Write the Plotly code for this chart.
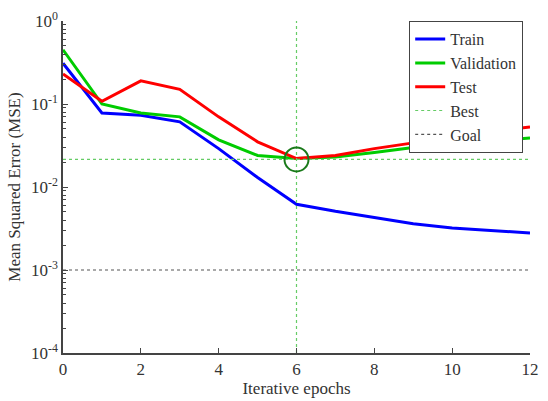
import plotly.graph_objects as go

epochs = list(range(13))
train = [0.31, 0.078, 0.073, 0.061, 0.029, 0.013, 0.0062, 0.0051, 0.0043, 0.0036, 0.0032, 0.0030, 0.0028]
validation = [0.45, 0.10, 0.078, 0.070, 0.037, 0.024, 0.022, 0.023, 0.026, 0.030, 0.033, 0.036, 0.039]
test = [0.23, 0.108, 0.19, 0.15, 0.07, 0.035, 0.022, 0.024, 0.029, 0.034, 0.041, 0.047, 0.053]
best_epoch = 6
best_value = 0.0215
goal_value = 0.001
x_range = [0, 12]
x_ticks = [0, 2, 4, 6, 8, 10, 12]
y_range_log = [-4, 0]
y_tick_vals = [1e-4, 1e-3, 1e-2, 1e-1, 1]
y_tick_text = ["10<sup>-4</sup>", "10<sup>-3</sup>", "10<sup>-2</sup>", "10<sup>-1</sup>", "10<sup>0</sup>"]

font_family = "Liberation Serif"

fig = go.Figure()
fig.add_trace(go.Scatter(x=epochs, y=train, mode="lines", name="Train",
                         line=dict(color="#0000ff", width=3)))
fig.add_trace(go.Scatter(x=epochs, y=validation, mode="lines", name="Validation",
                         line=dict(color="#00cc00", width=3)))
fig.add_trace(go.Scatter(x=epochs, y=test, mode="lines", name="Test",
                         line=dict(color="#ff0000", width=3)))
fig.add_trace(go.Scatter(x=[x_range[0], x_range[1], None, best_epoch, best_epoch],
                         y=[best_value, best_value, None, 10 ** y_range_log[0], 10 ** y_range_log[1]],
                         mode="lines", name="Best",
                         line=dict(color="#66cc66", width=1.2, dash="dot")))
fig.add_trace(go.Scatter(x=x_range, y=[goal_value, goal_value], mode="lines", name="Goal",
                         line=dict(color="#555555", width=1.2, dash="dot")))
fig.add_trace(go.Scatter(x=[best_epoch], y=[best_value], mode="markers", showlegend=False,
                         marker=dict(symbol="circle-open", size=24, color="#1a7a1a",
                                     line=dict(width=2, color="#1a7a1a"))))

fig.update_layout(
    width=548, height=401,
    margin=dict(l=63, r=9, t=13, b=47),
    paper_bgcolor="white", plot_bgcolor="white",
    font=dict(family=font_family, size=15, color="#333333"),
    showlegend=True,
    legend=dict(x=0.985, y=1.0, xanchor="right", yanchor="top",
                bordercolor="#444444", borderwidth=1.2, bgcolor="white",
                font=dict(size=16, family=font_family, color="#333333"),
                tracegroupgap=0, itemwidth=30),
)
fig.update_xaxes(range=x_range, tickvals=x_ticks, showgrid=False, zeroline=False,
                 showline=True, linecolor="#444444", linewidth=1.5,
                 ticks="inside", ticklen=5, tickcolor="#444444",
                 tickfont=dict(size=17),
                 title=dict(text="Iterative epochs", font=dict(size=17), standoff=1))
fig.update_yaxes(type="log", range=y_range_log, tickvals=y_tick_vals, ticktext=y_tick_text,
                 showgrid=False, zeroline=False,
                 showline=True, linecolor="#444444", linewidth=1.5,
                 ticks="inside", ticklen=5, tickcolor="#444444",
                 tickfont=dict(size=17),
                 minor=dict(ticks="inside", ticklen=3, dtick="D1", tickcolor="#444444", showgrid=False),
                 title=dict(text="Mean Squared Error (MSE)", font=dict(size=17), standoff=6))

fig.write_html("out.html")
